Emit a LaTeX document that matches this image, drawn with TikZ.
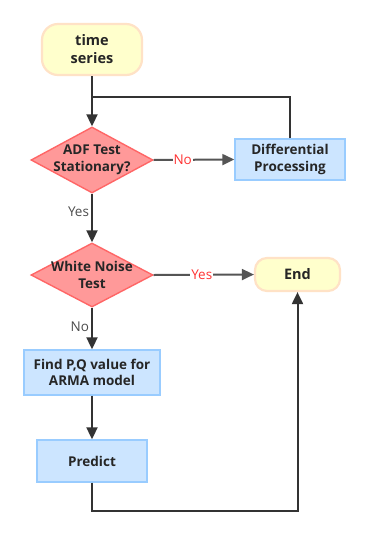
\documentclass[tikz,border=0pt]{standalone}
\usepackage{fontspec}
\setmainfont{Open Sans}
\usetikzlibrary{arrows.meta,shapes.geometric}
\definecolor{termfill}{HTML}{FFFFCC}
\definecolor{termline}{HTML}{FFE2C6}
\definecolor{decfill}{HTML}{FF9999}
\definecolor{decline}{HTML}{FF6666}
\definecolor{procfill}{HTML}{CCE5FF}
\definecolor{procline}{HTML}{99CCFF}
\definecolor{wire}{HTML}{333333}
\definecolor{wirelight}{HTML}{555555}
\definecolor{labred}{HTML}{FF3333}
\tikzset{
  boxtext/.style={align=center, font=\fontsize{13.5}{16.5}\selectfont\bfseries, text=black!85},
  terminal/.style={draw=termline, fill=termfill, line width=2.2pt, rounded corners=16pt,
    align=center, font=\fontsize{14.5}{18}\selectfont\bfseries, text=black!85, inner sep=0pt},
  decision/.style={diamond, draw=decline, fill=decfill, line width=1.4pt, inner sep=0pt,
    label={[boxtext]center:#1}},
  process/.style={draw=procline, fill=procfill, line width=1.4pt, boxtext, inner sep=0pt},
  flow/.style={draw=wire, line width=2pt, -{Triangle[width=11pt,length=12pt]}},
  flowlight/.style={draw=wirelight, line width=2pt, -{Triangle[width=11pt,length=12pt]}},
  wireline/.style={draw=wire, line width=2pt},
  lab/.style={font=\fontsize{13.5}{16}\selectfont, fill=white, inner sep=1pt},
}
\begin{document}
\begin{tikzpicture}[x=1pt,y=-1pt]
\useasboundingbox (0,0) rectangle (369,536);
\fill[white] (0,0) rectangle (369,536);

% nodes
\node[terminal, minimum width=100pt, minimum height=51pt] (start) at (92,49.5) {time\\series};
\node[decision={ADF Test\\Stationary?}, minimum width=122pt, minimum height=66pt] (adf) at (92,160) {};
\node[process, minimum width=110pt, minimum height=41pt] (diff) at (290,159.5) {Differential\\Processing};
\node[decision={White Noise\\Test}, minimum width=122pt, minimum height=64pt] (wn) at (92,275) {};
\node[terminal, minimum width=85pt, minimum height=33pt, rounded corners=12pt] (end) at (297.5,274.5) {End};
\node[process, minimum width=136pt, minimum height=45pt] (find) at (92,372.5) {Find P,Q value for\\ARMA model};
\node[process, minimum width=110pt, minimum height=42pt] (pred) at (92,461) {Predict};

\coordinate (join) at (92,97);
\coordinate (low) at (92,511);

% connectors
\draw[flow] (start.south) -- (adf.north);
\draw[wireline] (diff.north) |- (join);
\draw[flowlight] (adf.east) -- node[lab, text=labred, pos=0.36] {No} (diff.west);
\draw[flow] (adf.south) -- node[lab, text=black!70, pos=0.38, left=1pt] {Yes} (wn.north);
\draw[flowlight] (wn.east) -- node[lab, text=labred, pos=0.48] {Yes} (end.west);
\draw[flow] (wn.south) -- node[lab, text=black!70, pos=0.45, left=1pt] {No} (find.north);
\draw[flow] (find.south) -- (pred.north);
\draw[flow] (pred.south) |- (low) -| (end.south);
\end{tikzpicture}
\end{document}
